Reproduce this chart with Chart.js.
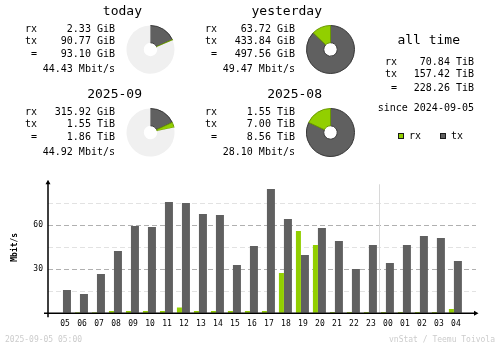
<!DOCTYPE html>
<html>
<head>
<meta charset="utf-8">
<title>vnStat summary</title>
<script src="https://cdn.jsdelivr.net/npm/chart.js@4.4.0/dist/chart.umd.min.js"></script>
<style>
  body { margin: 0; background: #fff; }
  #image { position: relative; width: 500px; height: 348px; overflow: hidden; background: #fff;
           font-family: 'DejaVu Sans Mono', monospace; }
  #image canvas, #image .txt, #image .sq { position: absolute; }
  .txt { white-space: pre; color: #000; }
  .sq { width: 4px; height: 4px; border: 1px solid #1a1a1a; }
</style>
</head>
<body>
<div id="image">
  <canvas id="hours" width="500" height="348" style="left:0;top:0"></canvas>
</div>
<script>
// hourly average rate, 05:00 yesterday .. 04:00 today (Mbit/s)
const hours = ['05', '06', '07', '08', '09', '10', '11', '12', '13', '14', '15', '16',
               '17', '18', '19', '20', '21', '22', '23', '00', '01', '02', '03', '04'];
const rxRate = [0, 0.8, 0.8, 1.6, 1.6, 1.6, 1.6, 3.9, 1.6, 1.6, 1.6, 1.6,
                1.6, 27.5, 56.1, 46.6, 0.9, 0.9, 0.9, 0.9, 0.9, 0.9, 0.9, 3.0];
const txRate = [15.9, 13.2, 26.8, 42.5, 59.5, 58.8, 75.9, 75.2, 67.7, 67.0, 32.9, 45.9,
                84.8, 64.3, 39.8, 58.1, 49.3, 30.2, 46.6, 34.3, 46.6, 52.7, 51.3, 35.6];
const yLabels = [30, 60];

// period summaries
const periods = ['today', 'yesterday', '2025-09', '2025-08'];
const periodRx = [2.33, 63.72, 315.92, 1.55];
const periodRxUnit = ['GiB', 'GiB', 'GiB', 'TiB'];
const periodTx = [90.77, 433.84, 1.55, 7.00];
const periodTxUnit = ['GiB', 'GiB', 'TiB', 'TiB'];
const periodTotal = [93.10, 497.56, 1.86, 8.56];
const periodTotalUnit = ['GiB', 'GiB', 'TiB', 'TiB'];
const periodRate = [44.43, 49.47, 44.92, 28.10];
// today is compared against yesterday, this month against last month
const compareWith = [1, -1, 3, -1];

const allTime = [70.84, 157.42, 228.26]; // rx, tx, total (TiB)
const since = '2024-09-05';
const stamp = '2025-09-05 05:00';

const rxColor = '#92cf00';
const txColor = '#606060';
const restColor = '#f0f0f0';

Chart.defaults.font.family = "'DejaVu Sans Mono', monospace";
Chart.defaults.color = '#000';

const root = document.getElementById('image');

// place a line of text by its baseline
function put(text, x, base, size, align, extra) {
  const d = document.createElement('div');
  d.className = 'txt';
  d.textContent = text;
  d.style.fontSize = size + 'px';
  d.style.lineHeight = size + 'px';
  d.style.top = (base - 0.846 * size) + 'px';
  if (align === 'right') d.style.right = (500 - x) + 'px';
  else d.style.left = x + 'px';
  if (align === 'center') d.style.transform = 'translateX(-50%)';
  if (extra) Object.assign(d.style, extra);
  root.appendChild(d);
}

function gib(v, unit) {
  return unit === 'TiB' ? v * 1024 : v;
}

function pieValues(i) {
  const tx = gib(periodTx[i], periodTxUnit[i]);
  const rx = gib(periodRx[i], periodRxUnit[i]);
  let rest = 0;
  const ref = compareWith[i];
  if (ref >= 0) {
    rest = Math.max(gib(periodTotal[ref], periodTotalUnit[ref]) - gib(periodTotal[i], periodTotalUnit[i]), 0);
  }
  return [tx, rx, rest];
}

// summary blocks: text on the left, doughnut on the right
const blockPos = [[25, 0], [205, 0], [25, 83], [205, 83]];

periods.forEach(function(name, i) {
  const lx = blockPos[i][0], dy = blockPos[i][1];
  const vr = lx + 90;
  put(name, lx + 117, 15 + dy, 13, 'right');
  put('rx', lx, 32.3 + dy, 10);
  put(periodRx[i].toFixed(2) + ' ' + periodRxUnit[i], vr, 32.3 + dy, 10, 'right');
  put('tx', lx, 44.3 + dy, 10);
  put(periodTx[i].toFixed(2) + ' ' + periodTxUnit[i], vr, 44.3 + dy, 10, 'right');
  put(' =', lx, 57.7 + dy, 10);
  put(periodTotal[i].toFixed(2) + ' ' + periodTotalUnit[i], vr, 57.7 + dy, 10, 'right');
  put(periodRate[i].toFixed(2) + ' Mbit/s', vr, 72.3 + dy, 10, 'right');

  const c = document.createElement('canvas');
  c.width = 49;
  c.height = 49;
  c.style.left = (lx + 101) + 'px';
  c.style.top = (25 + dy) + 'px';
  root.appendChild(c);
  new Chart(c, {
    type: 'doughnut',
    data: {
      labels: ['tx', 'rx', ''],
      datasets: [{
        data: pieValues(i),
        backgroundColor: [txColor, rxColor, restColor],
        borderColor: ['#383838', '#6a9800', restColor],
        borderWidth: [1, 1, 0]
      }]
    },
    options: {
      responsive: false,
      animation: false,
      events: [],
      cutout: '28%',
      plugins: { legend: { display: false }, tooltip: { enabled: false } }
    }
  });
});

// all time column
put('all time', 428.7, 44, 13, 'center');
put('rx', 385, 65.7, 10);
put(allTime[0].toFixed(2) + ' TiB', 474, 65.7, 10, 'right');
put('tx', 385, 77.7, 10);
put(allTime[1].toFixed(2) + ' TiB', 474, 77.7, 10, 'right');
put(' =', 385, 91.7, 10);
put(allTime[2].toFixed(2) + ' TiB', 474, 91.7, 10, 'right');
put('since ' + since, 474, 111.7, 10, 'right');

// legend
[[rxColor, 398, 'rx', 409], [txColor, 440, 'tx', 451]].forEach(function(l) {
  const s = document.createElement('div');
  s.className = 'sq';
  s.style.background = l[0];
  s.style.left = l[1] + 'px';
  s.style.top = '133px';
  root.appendChild(s);
  put(l[2], l[3], 139.3, 10);
});

// footer
put(stamp, 5, 342.7, 8, 'left', { color: '#cccccc' });
put('vnStat / Teemu Toivola', 495, 342.7, 8, 'right', { color: '#cccccc' });

// axes with arrow heads and the midnight marker
const hourAxes = {
  id: 'hourAxes',
  beforeDatasetsDraw(chart) {
    const {ctx, chartArea: a, scales: {x}} = chart;
    const m = hours.indexOf('00');
    const px = Math.round((x.getPixelForValue(m - 1) + x.getPixelForValue(m)) / 2) + 2.5;
    ctx.save();
    ctx.strokeStyle = '#d8d8d8';
    ctx.lineWidth = 1;
    ctx.beginPath();
    ctx.moveTo(px, a.top + 3);
    ctx.lineTo(px, a.bottom);
    ctx.stroke();
    ctx.restore();
  },
  afterDatasetsDraw(chart) {
    const {ctx, chartArea: a} = chart;
    ctx.save();
    ctx.strokeStyle = '#000';
    ctx.fillStyle = '#000';
    ctx.lineWidth = 1.5;
    ctx.beginPath();
    ctx.moveTo(a.left, a.bottom + 4);
    ctx.lineTo(a.left, a.top + 2);
    ctx.moveTo(a.left - 4, a.bottom);
    ctx.lineTo(a.right - 2, a.bottom);
    ctx.stroke();
    ctx.beginPath();
    ctx.moveTo(a.left, a.top - 1.5);
    ctx.lineTo(a.left - 2.5, a.top + 3);
    ctx.lineTo(a.left + 2.5, a.top + 3);
    ctx.closePath();
    ctx.moveTo(a.right + 2.5, a.bottom);
    ctx.lineTo(a.right - 2, a.bottom - 2.5);
    ctx.lineTo(a.right - 2, a.bottom + 2.5);
    ctx.closePath();
    ctx.fill();
    ctx.restore();
  }
};

new Chart(document.getElementById('hours'), {
  type: 'bar',
  data: {
    datasets: [{
      label: 'rx',
      data: rxRate.map(function(v, i) { return { x: i, y: v }; }),
      backgroundColor: rxColor,
      barThickness: 5,
      inflateAmount: 0
    }, {
      label: 'tx',
      data: txRate.map(function(v, i) { return { x: i, y: v }; }),
      backgroundColor: txColor,
      barThickness: 8,
      inflateAmount: 0
    }]
  },
  options: {
    responsive: false,
    animation: false,
    events: [],
    layout: { padding: { top: 181.3, right: 24, left: 0, bottom: 0 } },
    plugins: { legend: { display: false }, tooltip: { enabled: false } },
    scales: {
      x: {
        type: 'linear',
        offset: false,
        min: -0.88,
        max: 24.3,
        afterFit: function(s) { s.height = 34.7; },
        grid: { display: false, offset: false },
        border: { display: false },
        ticks: {
          stepSize: 1,
          includeBounds: false,
          autoSkip: false,
          maxRotation: 0,
          padding: -2,
          labelOffset: 2,
          font: { size: 8 },
          callback: function(v) { return Number.isInteger(v) && hours[v] !== undefined ? hours[v] : ''; }
        }
      },
      y: {
        min: 0,
        max: 90,
        afterFit: function(s) { s.width = 48; },
        title: {
          display: true,
          text: 'Mbit/s',
          font: { size: 8, weight: 'bold' },
          padding: { top: 10, bottom: 0 }
        },
        border: { display: false, dash: [5, 3] },
        grid: {
          drawTicks: false,
          lineWidth: 1,
          color: function(c) {
            const v = c.tick ? c.tick.value : 0;
            if (yLabels.indexOf(v) >= 0) return '#b0b0b0';
            if (v > 0 && v < 90) return '#e2e2e2';
            return 'rgba(0,0,0,0)';
          }
        },
        ticks: {
          stepSize: 15,
          padding: 5,
          font: { size: 8 },
          callback: function(v) { return yLabels.indexOf(v) >= 0 ? String(v) : ''; }
        }
      }
    }
  },
  plugins: [hourAxes]
});
</script>
</body>
</html>
